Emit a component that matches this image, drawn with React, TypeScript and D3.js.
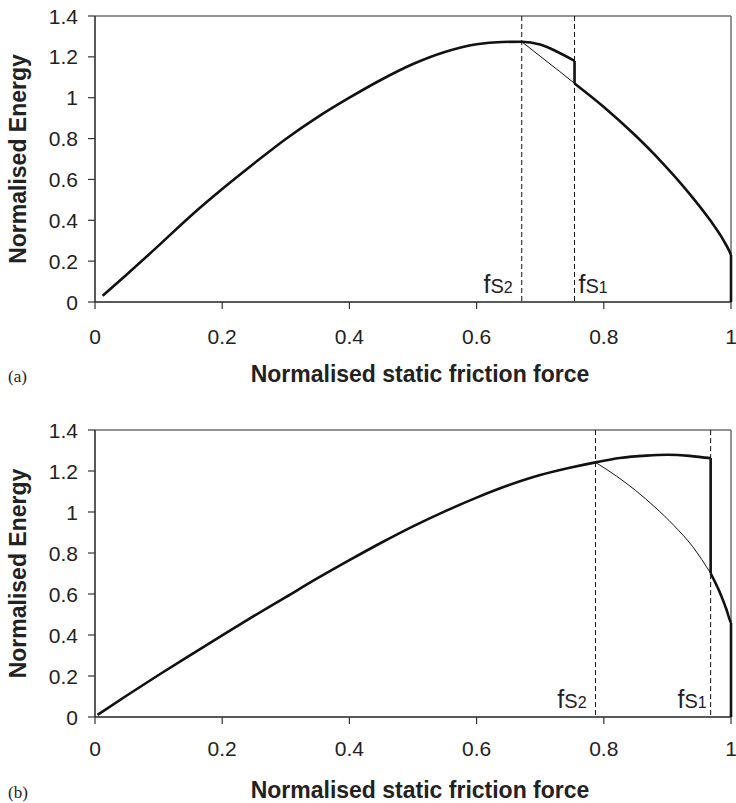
import React, { useRef, useEffect } from 'react';
import * as d3 from 'd3';

// panel (a)
const aThickF = [0.012, 0.05, 0.1, 0.15, 0.2, 0.25, 0.3, 0.35, 0.4, 0.45, 0.5, 0.55, 0.6, 0.64, 0.671, 0.7, 0.726, 0.754, 0.754, 0.8, 0.846, 0.888, 0.93, 0.967, 0.988, 0.998, 1, 1];
const aThickE = [0.031, 0.135, 0.276, 0.42, 0.553, 0.678, 0.798, 0.905, 1.0, 1.088, 1.165, 1.224, 1.262, 1.273, 1.274, 1.26, 1.226, 1.18, 1.07, 0.955, 0.826, 0.695, 0.548, 0.401, 0.303, 0.245, 0.23, 0];
const aThinF = [0.671, 0.7, 0.73, 0.754];
const aThinE = [1.274, 1.203, 1.13, 1.07];
const aFs = [0.671, 0.754];

// panel (b)
const bThickF = [0.004, 0.05, 0.1, 0.15, 0.2, 0.25, 0.3, 0.35, 0.4, 0.45, 0.5, 0.55, 0.6, 0.65, 0.7, 0.75, 0.787, 0.825, 0.867, 0.9, 0.935, 0.964, 0.968, 0.968, 0.983, 0.993, 0.999, 1, 1];
const bThickE = [0.01, 0.105, 0.205, 0.302, 0.398, 0.493, 0.585, 0.677, 0.765, 0.85, 0.93, 1.003, 1.07, 1.13, 1.18, 1.218, 1.242, 1.263, 1.275, 1.279, 1.274, 1.264, 1.263, 0.701, 0.604, 0.523, 0.466, 0.46, 0];
const bThinF = [0.787, 0.82, 0.85, 0.88, 0.91, 0.94, 0.968];
const bThinE = [1.242, 1.175, 1.105, 1.025, 0.935, 0.83, 0.701];
const bFs = [0.787, 0.968];

const xTicks = [0, 0.2, 0.4, 0.6, 0.8, 1];
const xTickLabels = ['0', '0.2', '0.4', '0.6', '0.8', '1'];
const yTicks = [0, 0.2, 0.4, 0.6, 0.8, 1, 1.2, 1.4];
const yTickLabels = ['0', '0.2', '0.4', '0.6', '0.8', '1', '1.2', '1.4'];

const W = 736;
const H = 803;
const FONT = "'Liberation Sans', Arial, sans-serif";

// split a series where the x repeats, so vertical drops stay straight
function pieces(fArr, eArr) {
  const out = [];
  let cur = [[fArr[0], eArr[0]]];
  for (let i = 1; i < fArr.length; i++) {
    const p = [fArr[i], eArr[i]];
    if (fArr[i] === fArr[i - 1]) {
      out.push({ smooth: true, pts: cur });
      out.push({ smooth: false, pts: [cur[cur.length - 1], p] });
      cur = [p];
    } else {
      cur.push(p);
    }
  }
  out.push({ smooth: true, pts: cur });
  return out.filter(s => s.pts.length > 1);
}

function drawPanel(svg, opts) {
  const { top, bottom, thickF, thickE, thinF, thinE, fs, tag, fsLabels, tickDy, titleDy } = opts;
  const x = d3.scaleLinear().domain([0, 1]).range([95, 731]);
  const y = d3.scaleLinear().domain([0, 1.4]).range([bottom, top]);
  const g = svg.append('g');

  // frame: top and right in grey
  g.append('line').attr('x1', x(0)).attr('x2', x(1)).attr('y1', y(1.4)).attr('y2', y(1.4))
    .attr('stroke', '#6e6e6e').attr('stroke-width', 1.5);
  g.append('line').attr('x1', x(1)).attr('x2', x(1)).attr('y1', y(1.4)).attr('y2', y(0))
    .attr('stroke', '#6e6e6e').attr('stroke-width', 1.5);

  // y axis
  g.append('line').attr('x1', x(0)).attr('x2', x(0)).attr('y1', y(1.4)).attr('y2', y(0))
    .attr('stroke', '#222').attr('stroke-width', 1.5);
  yTicks.forEach((t, i) => {
    g.append('line').attr('x1', x(0) - 7).attr('x2', x(0)).attr('y1', y(t)).attr('y2', y(t))
      .attr('stroke', '#333').attr('stroke-width', 1.2);
    g.append('text').attr('x', 78).attr('y', y(t)).attr('text-anchor', 'end')
      .attr('dominant-baseline', 'central').attr('font-family', FONT).attr('font-size', 21)
      .attr('fill', '#222').text(yTickLabels[i]);
  });

  // x axis
  g.append('line').attr('x1', x(0)).attr('x2', x(1)).attr('y1', y(0)).attr('y2', y(0))
    .attr('stroke', '#222').attr('stroke-width', 1.5);
  xTicks.forEach((t, i) => {
    g.append('line').attr('x1', x(t)).attr('x2', x(t)).attr('y1', y(0)).attr('y2', y(0) + 7)
      .attr('stroke', '#333').attr('stroke-width', 1.2);
    g.append('text').attr('x', x(t)).attr('y', y(0) + tickDy).attr('text-anchor', 'middle')
      .attr('dominant-baseline', 'central').attr('font-family', FONT).attr('font-size', 21)
      .attr('fill', '#222').text(xTickLabels[i]);
  });

  // dashed markers for fs
  fs.forEach(f => {
    g.append('line').attr('x1', x(f)).attr('x2', x(f)).attr('y1', y(1.4)).attr('y2', y(0))
      .attr('stroke', '#111').attr('stroke-width', 1).attr('stroke-dasharray', '5,3');
  });
  fsLabels.forEach(l => {
    const t = g.append('text').attr('x', x(l.f) + l.dx).attr('y', y(0) - 9)
      .attr('text-anchor', l.anchor).attr('font-family', FONT).attr('fill', '#222');
    t.append('tspan').attr('font-size', 25).text('f');
    t.append('tspan').attr('font-size', 20).text('S');
    t.append('tspan').attr('font-size', 16).text(l.sub);
  });

  const smooth = d3.line().x(d => x(d[0])).y(d => y(d[1])).curve(d3.curveMonotoneX);
  const straight = d3.line().x(d => x(d[0])).y(d => y(d[1]));
  g.append('path').attr('d', smooth(thinF.map((f, i) => [f, thinE[i]])))
    .attr('fill', 'none').attr('stroke', '#111').attr('stroke-width', 1);
  const d = pieces(thickF, thickE).map(s => (s.smooth ? smooth(s.pts) : straight(s.pts))).join('');
  g.append('path').attr('d', d)
    .attr('fill', 'none').attr('stroke', '#111').attr('stroke-width', 2.6)
    .attr('stroke-linejoin', 'round');

  // titles
  g.append('text').attr('transform', `translate(26, ${(top + bottom) / 2}) rotate(-90)`)
    .attr('text-anchor', 'middle').attr('font-family', FONT).attr('font-weight', 'bold')
    .attr('font-size', 23).attr('fill', '#222').text('Normalised Energy');
  g.append('text').attr('x', 420).attr('y', bottom + titleDy).attr('text-anchor', 'middle')
    .attr('font-family', FONT).attr('font-weight', 'bold').attr('font-size', 23)
    .attr('fill', '#222').text('Normalised static friction force');
  g.append('text').attr('x', 8).attr('y', bottom + titleDy)
    .attr('font-family', "'Liberation Serif', 'Times New Roman', serif").attr('font-size', 17)
    .attr('fill', '#222').text(tag);
}

export default function App() {
  const ref = useRef(null);

  useEffect(() => {
    const svg = d3.select(ref.current);
    svg.selectAll('*').remove();
    svg.append('rect').attr('width', W).attr('height', H).attr('fill', '#fff');

    drawPanel(svg, {
      top: 16, bottom: 302, thickF: aThickF, thickE: aThickE, thinF: aThinF, thinE: aThinE,
      fs: aFs, tag: '(a)', tickDy: 34, titleDy: 80,
      fsLabels: [{ f: aFs[0], dx: -9, anchor: 'end', sub: '2' }, { f: aFs[1], dx: 4, anchor: 'start', sub: '1' }],
    });
    drawPanel(svg, {
      top: 430, bottom: 717, thickF: bThickF, thickE: bThickE, thinF: bThinF, thinE: bThinE,
      fs: bFs, tag: '(b)', tickDy: 31, titleDy: 81,
      fsLabels: [{ f: bFs[0], dx: -9, anchor: 'end', sub: '2' }, { f: bFs[1], dx: -4, anchor: 'end', sub: '1' }],
    });
  }, []);

  return (
    <svg ref={ref} width={W} height={H} style={{ position: 'absolute', left: 0, top: 0 }}></svg>
  );
}
